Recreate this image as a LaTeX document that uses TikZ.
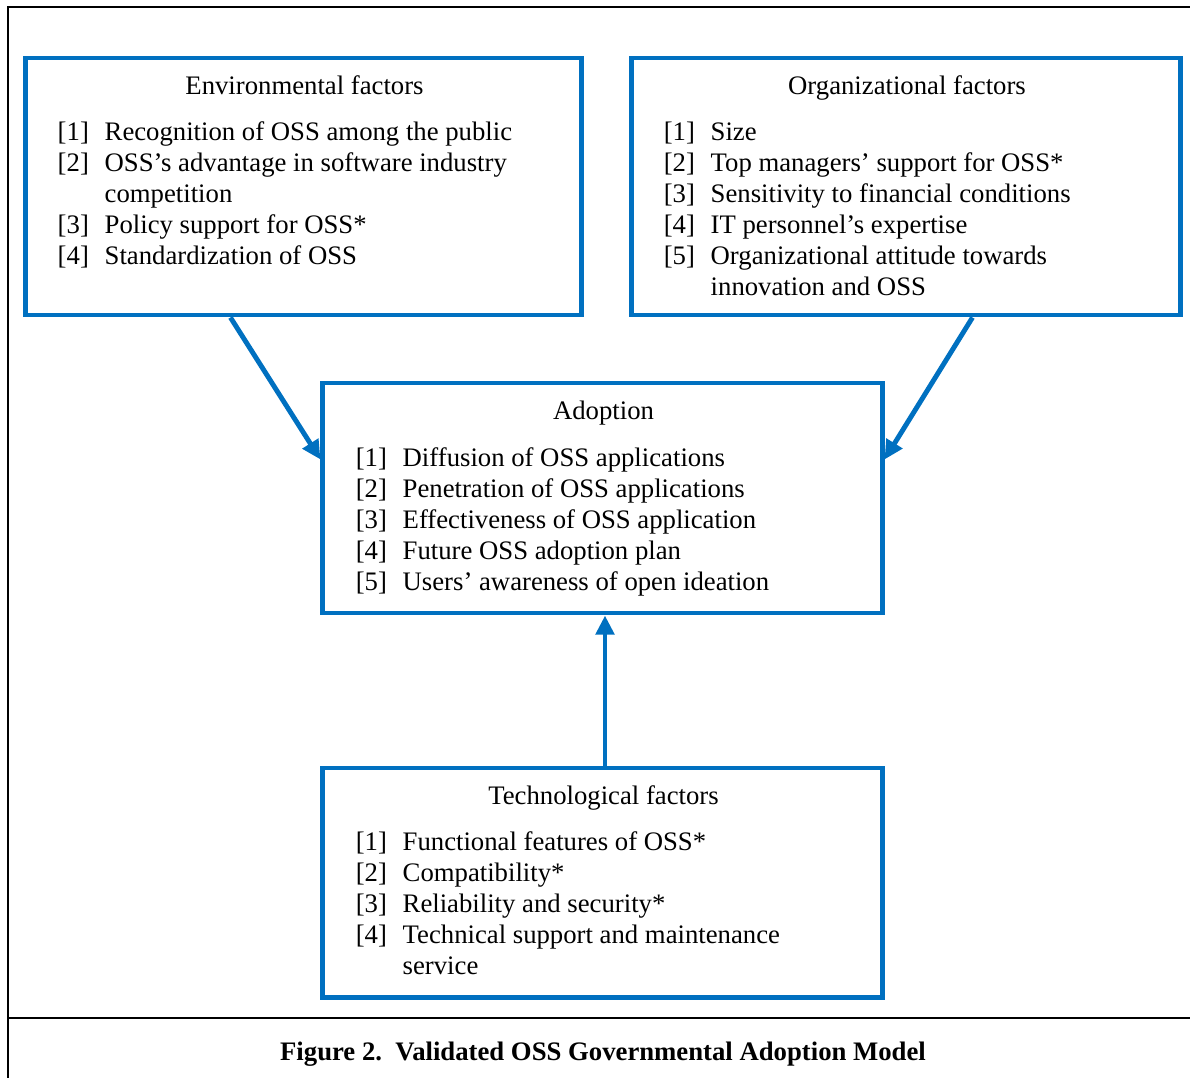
\documentclass[tikz,border=0pt]{standalone}
\usepackage{fontspec}
\setmainfont{Liberation Serif}
\usetikzlibrary{calc,arrows.meta}
\definecolor{boxblue}{RGB}{0,112,192}
\newcommand{\itemno}[1]{[#1]}
\tikzset{
  box/.style={draw=boxblue, line width=3.5pt, rectangle, inner sep=0pt},
  title/.style={anchor=base, inner sep=0pt},
  list/.style={anchor=base west, inner sep=0pt},
  flow/.style={draw=boxblue, line width=3.5pt, -{Triangle[length=0.475cm,width=0.45cm]}}
}

\begin{document}
\begin{tikzpicture}[x=0.025cm, y=-0.025cm, font=\fontsize{19}{22}\selectfont]
\useasboundingbox (0,0) rectangle (1190,1078);
% frame and caption rule
\draw[line width=1.5pt] (1195,7) -- (8,7) -- (8,1085);
\draw[line width=1.5pt] (8,1018) -- (1195,1018);

% boxes
\node[box, minimum width=13.875cm, minimum height=6.425cm] (env) at (303.5,186.5) {};
\node[box, minimum width=13.7cm, minimum height=6.425cm] (org) at (906,186.5) {};
\node[box, minimum width=13.975cm, minimum height=5.75cm] (adopt) at (602.5,498) {};
\node[box, minimum width=13.975cm, minimum height=5.725cm] (tech) at (602.5,882.5) {};

% titles
\node[title] (envtitle) at ($(env.north)+(1,39)$) {Environmental factors};
\node[title] (orgtitle) at ($(org.north)+(1,39)$) {Organizational factors};
\node[title] (adopttitle) at ($(adopt.north)+(1,39)$) {Adoption};
\node[title] (techtitle) at ($(tech.north)+(1,39)$) {Technological factors};

% item lists
\node[list] (envlist) at ($(env.north west)+(34,85)$) {\begin{tabular}[t]{@{}p{33.4pt}@{}l@{}}
\itemno{1} & Recognition of OSS among the public\\
\itemno{2} & OSS’s advantage in software industry\\
 & competition\\
\itemno{3} & Policy support for OSS*\\
\itemno{4} & Standardization of OSS
\end{tabular}};
\node[list] (orglist) at ($(org.north west)+(34,85)$) {\begin{tabular}[t]{@{}p{33.4pt}@{}l@{}}
\itemno{1} & Size\\
\itemno{2} & Top managers’ support for OSS*\\
\itemno{3} & Sensitivity to financial conditions\\
\itemno{4} & IT personnel’s expertise\\
\itemno{5} & Organizational attitude towards\\
 & innovation and OSS
\end{tabular}};
\node[list] (adoptlist) at ($(adopt.north west)+(35,86)$) {\begin{tabular}[t]{@{}p{33.4pt}@{}l@{}}
\itemno{1} & Diffusion of OSS applications\\
\itemno{2} & Penetration of OSS applications\\
\itemno{3} & Effectiveness of OSS application\\
\itemno{4} & Future OSS adoption plan\\
\itemno{5} & Users’ awareness of open ideation
\end{tabular}};
\node[list] (techlist) at ($(tech.north west)+(35,85)$) {\begin{tabular}[t]{@{}p{33.4pt}@{}l@{}}
\itemno{1} & Functional features of OSS*\\
\itemno{2} & Compatibility*\\
\itemno{3} & Reliability and security*\\
\itemno{4} & Technical support and maintenance\\
 & service
\end{tabular}};

% connectors
\draw[flow] ($(env.south west)+(207,0)$) -- ($(adopt.north west)+(0,79)$);
\draw[flow] ($(org.south west)+(343,0)$) -- ($(adopt.north east)+(0,79)$);
\draw[flow] ($(tech.north)+(2.5,0)$) -- ($(adopt.south)+(2.5,0)$);

\node[anchor=base, font=\fontsize{19}{22}\selectfont\bfseries] (caption) at (603,1060) {Figure 2.\ \ Validated OSS Governmental Adoption Model};
\end{tikzpicture}
\end{document}
